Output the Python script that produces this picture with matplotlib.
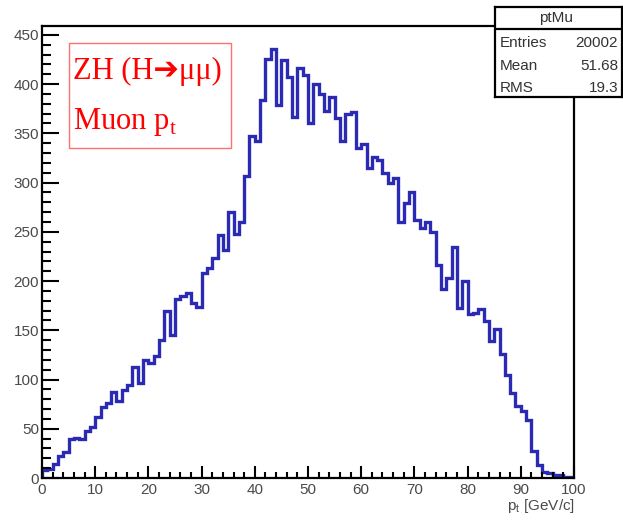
import numpy as np
import matplotlib
matplotlib.use('Agg')
import matplotlib.pyplot as plt
from matplotlib.patches import Rectangle
from matplotlib.ticker import MultipleLocator

# histogram ptMu: 100 bins of 1 GeV/c from 0 to 100
bin_edges = np.arange(0, 101, 1)
counts = [8, 9, 14, 22, 26, 40, 41, 40, 48, 52,
          62, 72, 76, 87, 78, 89, 94, 113, 96, 120,
          117, 124, 140, 170, 145, 182, 185, 188, 178, 174,
          208, 213, 223, 247, 232, 270, 248, 260, 307, 347,
          342, 384, 425, 436, 379, 424, 407, 367, 416, 409,
          360, 400, 390, 373, 387, 366, 342, 370, 372, 335,
          339, 315, 326, 323, 310, 300, 305, 260, 279, 290,
          262, 254, 260, 250, 216, 192, 203, 235, 173, 200,
          167, 168, 172, 159, 139, 151, 126, 105, 86, 73,
          68, 59, 27, 13, 6, 5, 3, 3, 1, 1]

hist_name = 'ptMu'
stat_names = ['Entries', 'Mean', 'RMS']
stat_values = ['20002', '51.68', '19.3']

W, H = 623, 523


def fx(px):
    return px / W


def fy(py):
    return 1 - py / H


plt.rcParams['font.family'] = ['Liberation Sans', 'DejaVu Sans']

fig = plt.figure(figsize=(W / 100, H / 100), dpi=100)

# main frame
ax = fig.add_axes([fx(42), fy(478), fx(574) - fx(42), fy(26) - fy(478)])
ax.stairs(counts, bin_edges, color='#2a2ab4', linewidth=2.4)
ax.set_xlim(0, 100)
ax.set_ylim(0, 459)

ax.xaxis.set_major_locator(MultipleLocator(10))
ax.xaxis.set_minor_locator(MultipleLocator(2))
ax.yaxis.set_major_locator(MultipleLocator(50))
ax.yaxis.set_minor_locator(MultipleLocator(10))
ax.tick_params(which='both', direction='in', top=False, right=False,
               width=1.5, color='black', labelsize=11, labelcolor='#4a4a4a')
ax.tick_params(axis='x', which='major', length=9, pad=3.5)
ax.tick_params(axis='x', which='minor', length=4.5)
ax.tick_params(axis='y', which='major', length=12, pad=2)
ax.tick_params(axis='y', which='minor', length=6.5)
for sp in ax.spines.values():
    sp.set_linewidth(1.6)

fig.text(fx(575), fy(506), 'p$_\\mathregular{t}$ [GeV/c]', ha='right', va='center',
         fontsize=11, color='#4a4a4a')

# red label box
fig.add_artist(Rectangle((fx(69), fy(148)), fx(231) - fx(69), fy(43) - fy(148),
                         transform=fig.transFigure, fill=False,
                         edgecolor='#ff7070', linewidth=1))
fig.text(fx(73), fy(79), 'ZH (H\u2794\u03bc\u03bc)', fontsize=22, color='red',
         family=['Liberation Serif', 'DejaVu Sans'], va='baseline')
fig.text(fx(73), fy(129), 'Muon p$_\\mathregular{t}$', fontsize=22, color='red',
         family='Liberation Serif', va='baseline')

# stats box
sax = fig.add_axes([fx(495), fy(97), fx(622) - fx(495), fy(7) - fy(97)])
sax.set_xticks([])
sax.set_yticks([])
sax.set_xlim(0, 1)
sax.set_ylim(0, 1)
for sp in sax.spines.values():
    sp.set_linewidth(1.6)
sax.axhline((97 - 29) / 90, color='black', linewidth=1.6)
sax.text(0.48, (97 - 18) / 90, hist_name, ha='center', va='center',
         fontsize=11, color='#333333')
for i, (name, val) in enumerate(zip(stat_names, stat_values)):
    yy = (97 - (43 + 22.5 * i)) / 90
    sax.text(0.04, yy, name, ha='left', va='center', fontsize=11, color='#333333')
    sax.text(0.97, yy, val, ha='right', va='center', fontsize=11, color='#333333')

plt.savefig('out.png', dpi=100)
